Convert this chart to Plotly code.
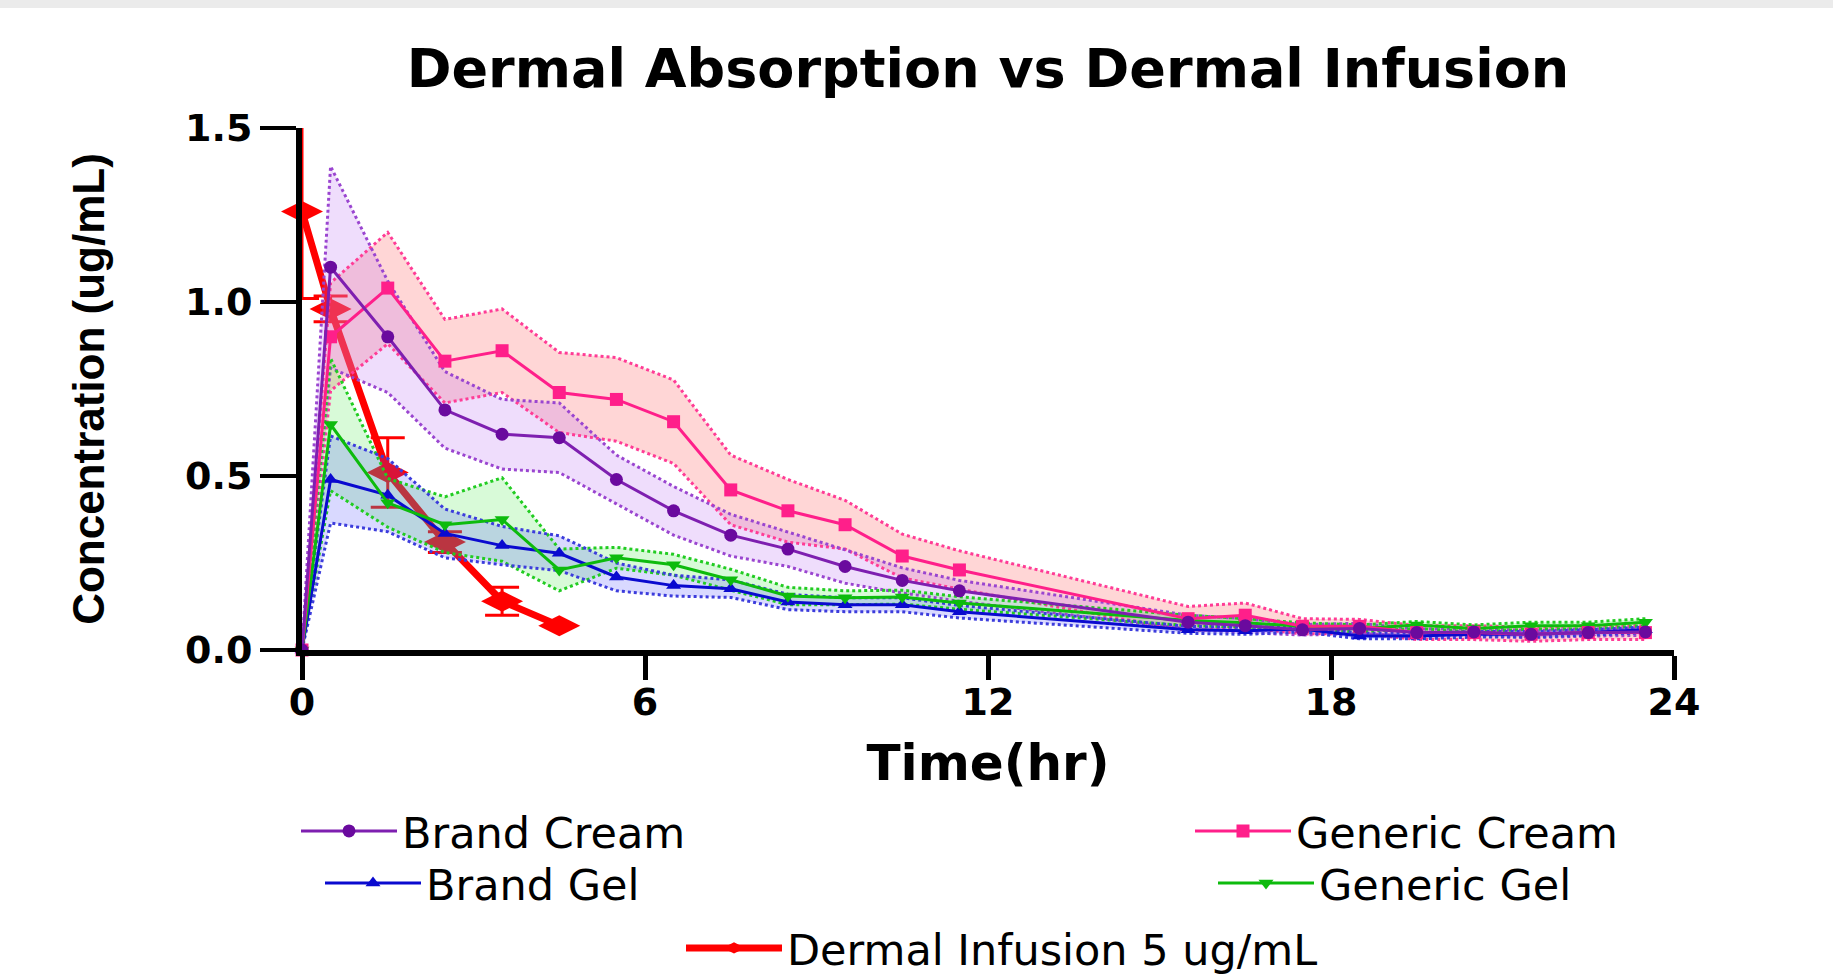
import plotly.graph_objects as go

# ---------------- data ----------------
time_hr = [0, 0.5, 1.5, 2.5, 3.5, 4.5, 5.5, 6.5, 7.5, 8.5, 9.5, 10.5, 11.5,
           15.5, 16.5, 17.5, 18.5, 19.5, 20.5, 21.5, 22.5, 23.5]

brand_cream = [0, 1.10, 0.90, 0.69, 0.62, 0.61, 0.49, 0.40, 0.33, 0.29, 0.24, 0.20, 0.17,
               0.08, 0.07, 0.058, 0.062, 0.05, 0.052, 0.045, 0.05, 0.052]
brand_cream_sem = [0, 0.29, 0.16, 0.11, 0.10, 0.10, 0.07, 0.07, 0.06, 0.05, 0.048, 0.036, 0.03,
                   0.02, 0.02, 0.015, 0.015, 0.01, 0.01, 0.01, 0.01, 0.01]

generic_cream = [0, 0.90, 1.04, 0.83, 0.86, 0.74, 0.72, 0.656, 0.46, 0.40, 0.36, 0.27, 0.23,
                 0.09, 0.10, 0.068, 0.068, 0.05, 0.05, 0.045, 0.05, 0.05]
generic_cream_sem = [0, 0.155, 0.16, 0.12, 0.12, 0.115, 0.12, 0.12, 0.10, 0.09, 0.07, 0.063, 0.055,
                     0.035, 0.035, 0.022, 0.02, 0.02, 0.02, 0.02, 0.02, 0.02]

brand_gel = [0, 0.49, 0.445, 0.335, 0.30, 0.278, 0.21, 0.185, 0.176, 0.138, 0.13, 0.13, 0.11,
             0.058, 0.055, 0.06, 0.04, 0.04, 0.045, 0.045, 0.05, 0.058]
brand_gel_sem = [0, 0.125, 0.105, 0.07, 0.055, 0.05, 0.04, 0.03, 0.025, 0.022, 0.02, 0.02, 0.018,
                 0.01, 0.01, 0.008, 0.008, 0.008, 0.008, 0.008, 0.008, 0.008]

generic_gel = [0, 0.648, 0.423, 0.36, 0.375, 0.23, 0.265, 0.245, 0.202, 0.155, 0.15, 0.152, 0.135,
               0.085, 0.078, 0.068, 0.062, 0.072, 0.062, 0.07, 0.07, 0.08]
generic_gel_sem = [0, 0.19, 0.07, 0.08, 0.12, 0.06, 0.03, 0.03, 0.03, 0.025, 0.02, 0.02, 0.018,
                   0.015, 0.012, 0.01, 0.01, 0.01, 0.01, 0.01, 0.01, 0.01]

infusion_time = [0, 0.5, 1.5, 2.5, 3.5, 4.5]
infusion_conc = [1.26, 0.98, 0.51, 0.31, 0.14, 0.07]
infusion_err = [0.25, 0.037, 0.10, 0.03, 0.04, 0.0]

x_ticks = [0, 6, 12, 18, 24]
y_ticks = [0, 0.5, 1.0, 1.5]

# ---------------- layout geometry ----------------
W, H = 1833, 976
ML, MR, MT, MB = 302, 159, 128, 326
PW, PH = W - ML - MR, H - MT - MB


def paper_y(py):
    return (H - MB - py) / PH


HFONT = "DejaVu Sans"

series = [
    dict(name="Generic Cream", y=generic_cream, sem=generic_cream_sem, color="#FF1F8A",
         mcolor="#FF1F8A", symbol="square", fill="rgba(255,120,120,0.30)", dot="#FF3C96",
         legend="legend2", pos=(1190, 831)),
    dict(name="Brand Cream", y=brand_cream, sem=brand_cream_sem, color="#7E1FB0",
         mcolor="#6A0A9E", symbol="circle", fill="rgba(180,100,240,0.22)", dot="#9A45D0",
         legend="legend", pos=(296, 831)),
    dict(name="Generic Gel", y=generic_gel, sem=generic_gel_sem, color="#0DBB0D",
         mcolor="#0DBB0D", symbol="triangle-down", fill="rgba(60,230,60,0.20)", dot="#22CC22",
         legend="legend4", pos=(1213, 883)),
    dict(name="Brand Gel", y=brand_gel, sem=brand_gel_sem, color="#0A0ACF",
         mcolor="#0A0ACF", symbol="triangle-up", fill="rgba(80,80,255,0.22)", dot="#3C3CDC",
         legend="legend3", pos=(320, 883)),
]

fig = go.Figure()

# Dermal infusion (drawn first so the bands tint it, as in the reference)
fig.add_trace(go.Scatter(
    x=infusion_time, y=infusion_conc, name="Dermal Infusion 5 ug/mL",
    mode="lines+markers", line=dict(color="#FF0000", width=7),
    marker=dict(symbol="diamond-wide", size=30, color="#FF0000"),
    error_y=dict(type="data", array=infusion_err, visible=True, color="#FF0000",
                 thickness=3, width=17),
    legend="legend5", cliponaxis=False,
))

# SEM bands
for s in series:
    upper = [v + e for v, e in zip(s["y"], s["sem"])]
    lower = [max(v - e, 0) for v, e in zip(s["y"], s["sem"])]
    fig.add_trace(go.Scatter(
        x=time_hr + time_hr[::-1], y=upper + lower[::-1], fill="toself",
        fillcolor=s["fill"], mode="lines", line=dict(width=0),
        showlegend=False, hoverinfo="skip"))
for s in series:
    upper = [v + e for v, e in zip(s["y"], s["sem"])]
    lower = [max(v - e, 0) for v, e in zip(s["y"], s["sem"])]
    for edge in (upper, lower):
        fig.add_trace(go.Scatter(
            x=time_hr, y=edge, mode="lines",
            line=dict(color=s["dot"], width=3, dash="dot"),
            showlegend=False, hoverinfo="skip"))

# Mean lines
for s in [series[3], series[2], series[0], series[1]]:
    fig.add_trace(go.Scatter(
        x=time_hr, y=s["y"], name=s["name"], mode="lines+markers",
        line=dict(color=s["color"], width=3),
        marker=dict(symbol=s["symbol"], size=13, color=s["mcolor"]),
        legend=s["legend"], cliponaxis=False))

legend_pos = {s["legend"]: s["pos"] for s in series}
legend_pos["legend5"] = (681, 948)

legend_common = dict(orientation="h", xanchor="left", yanchor="middle",
                     xref="container", yref="container",
                     bgcolor="rgba(0,0,0,0)", itemwidth=96,
                     font=dict(family=HFONT, size=43, color="#000000"))
layout_legends = {}
for key, (px, py) in legend_pos.items():
    layout_legends[key] = dict(x=px / W, y=1 - py / H, **legend_common)

fig.update_layout(
    width=W, height=H,
    margin=dict(l=ML, r=MR, t=MT, b=MB, pad=0),
    paper_bgcolor="white", plot_bgcolor="white",
    title=dict(text="Dermal Absorption vs Dermal Infusion", x=0.5, xref="paper",
               xanchor="center", y=1 - 68 / H, yref="container", yanchor="middle",
               font=dict(family=HFONT, size=54, weight="bold", color="#000000")),
    xaxis=dict(range=[0, 24], tickvals=x_ticks, showgrid=False, zeroline=False,
               showline=True, linecolor="black", linewidth=6, automargin=False,
               ticks="outside", ticklen=24, tickwidth=5, tickcolor="black",
               ticklabelstandoff=-11,
               tickfont=dict(family=HFONT, size=38, weight="bold", color="black"),
               title=dict(text="Time(hr)", standoff=24,
                          font=dict(family=HFONT, size=50, weight="bold", color="black"))),
    yaxis=dict(range=[0, 1.5], tickvals=y_ticks, tickformat=".1f", showgrid=False,
               zeroline=False, showline=True, linecolor="black", linewidth=6,
               automargin=False,
               ticks="outside", ticklen=36, tickwidth=4, tickcolor="black",
               tickfont=dict(family=HFONT, size=38, weight="bold", color="black"),
               title=dict(text="Concentration (ug/mL)", standoff=69,
                          font=dict(family="Liberation Sans", size=44, weight="bold",
                                    color="black"))),
    shapes=[dict(type="rect", xref="paper", yref="paper", x0=-1, x1=2,
                 y0=paper_y(8), y1=paper_y(-10), fillcolor="#EBEBEB",
                 line=dict(width=0), layer="below")],
    **layout_legends,
)

fig.write_html("out.html")
